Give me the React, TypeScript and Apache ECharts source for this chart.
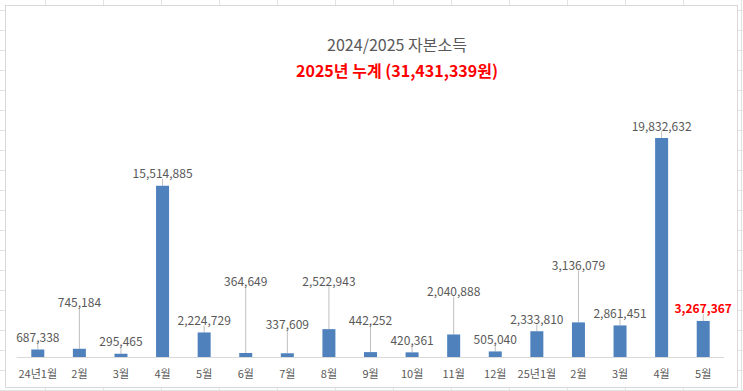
import React, { useEffect, useRef } from "react";
import * as echarts from "echarts";

const categories = [
  "24년1월", "2월", "3월", "4월", "5월", "6월", "7월", "8월", "9월", "10월", "11월", "12월",
  "25년1월", "2월", "3월", "4월", "5월",
];
const values = [
  687338, 745184, 295465, 15514885, 2224729, 364649, 337609, 2522943, 442252, 420361,
  2040888, 505040, 2333810, 3136079, 2861451, 19832632, 3267367,
];
const titleText = "2024/2025 자본소득";
const subtitleText = "2025년 누계 (31,431,339원)";

// label styling: how far some labels are lifted above their default spot (px)
const labelLift = [0, 34, 0, 0, 0, 59, 17, 36, 20, 0, 31, 0, 0, 45, 0, 0, 0];
const highlightIndex = 16;

const FONT = "'Noto Sans CJK KR', 'Noto Sans', sans-serif";
const GRAY = "#595959";

export default function App() {
  const ref = useRef<HTMLDivElement>(null);
  useEffect(() => {
    document.body.style.margin = "0";
    if (!ref.current) return;
    const chart = echarts.init(ref.current, undefined, { renderer: "svg" });
    const data = values.map((v, i) =>
      i === highlightIndex
        ? { value: v, label: { color: "#ff0000", fontWeight: "bold" as const } }
        : { value: v }
    );
    chart.setOption({
      animation: false,
      textStyle: { fontFamily: FONT },
      title: [
        {
          text: titleText,
          left: 392,
          top: 31,
          textAlign: "center",
          textStyle: { fontFamily: FONT, fontSize: 16, fontWeight: "normal", color: GRAY },
        },
        {
          text: subtitleText,
          left: 392,
          top: 57,
          textAlign: "center",
          textStyle: { fontFamily: FONT, fontSize: 16, fontWeight: "bold", color: "#ff0000" },
        },
      ],
      grid: { left: 17, right: 19, top: 81, bottom: 34, containLabel: false },
      xAxis: {
        type: "category",
        data: categories,
        axisLine: { lineStyle: { color: "#d9d9d9", width: 1 } },
        axisTick: { show: false },
        axisLabel: { color: GRAY, fontSize: 11, margin: 10, fontFamily: FONT, interval: 0 },
      },
      yAxis: {
        type: "value",
        min: 0,
        max: 25000000,
        show: false,
        splitLine: { show: false },
      },
      series: [
        {
          type: "bar",
          data,
          barWidth: 13,
          itemStyle: { color: "#4f81bd" },
          label: {
            show: true,
            position: "top",
            distance: 7,
            color: GRAY,
            fontSize: 12,
            fontFamily: FONT,
            formatter: (p: any) => Number(p.value).toLocaleString("en-US"),
          },
          labelLine: {
            show: true,
            lineStyle: { color: "#bfbfbf", width: 1 },
          },
          labelLayout: (params: any) => {
            const lift = labelLift[params.dataIndex] || 0;
            return lift ? { dy: -lift } : {};
          },
        },
      ],
    });
    return () => chart.dispose();
  }, []);

  return (
    <div
      style={{
        position: "relative",
        width: 743,
        height: 391,
        overflow: "hidden",
        backgroundColor: "#ffffff",
        backgroundImage:
          "linear-gradient(to right, #e2e2e2 1px, transparent 1px), linear-gradient(to bottom, #e2e2e2 1px, transparent 1px)",
        backgroundSize: "58px 20px",
        backgroundPosition: "45px 10px",
      }}
    >
      <div
        style={{
          position: "absolute",
          left: 5,
          top: 5,
          width: 733,
          height: 383,
          boxSizing: "border-box",
          border: "1px solid #d9d9d9",
          background: "#ffffff",
        }}
      />
      <div ref={ref} style={{ position: "absolute", left: 0, top: 0, width: 743, height: 391 }} />
    </div>
  );
}
